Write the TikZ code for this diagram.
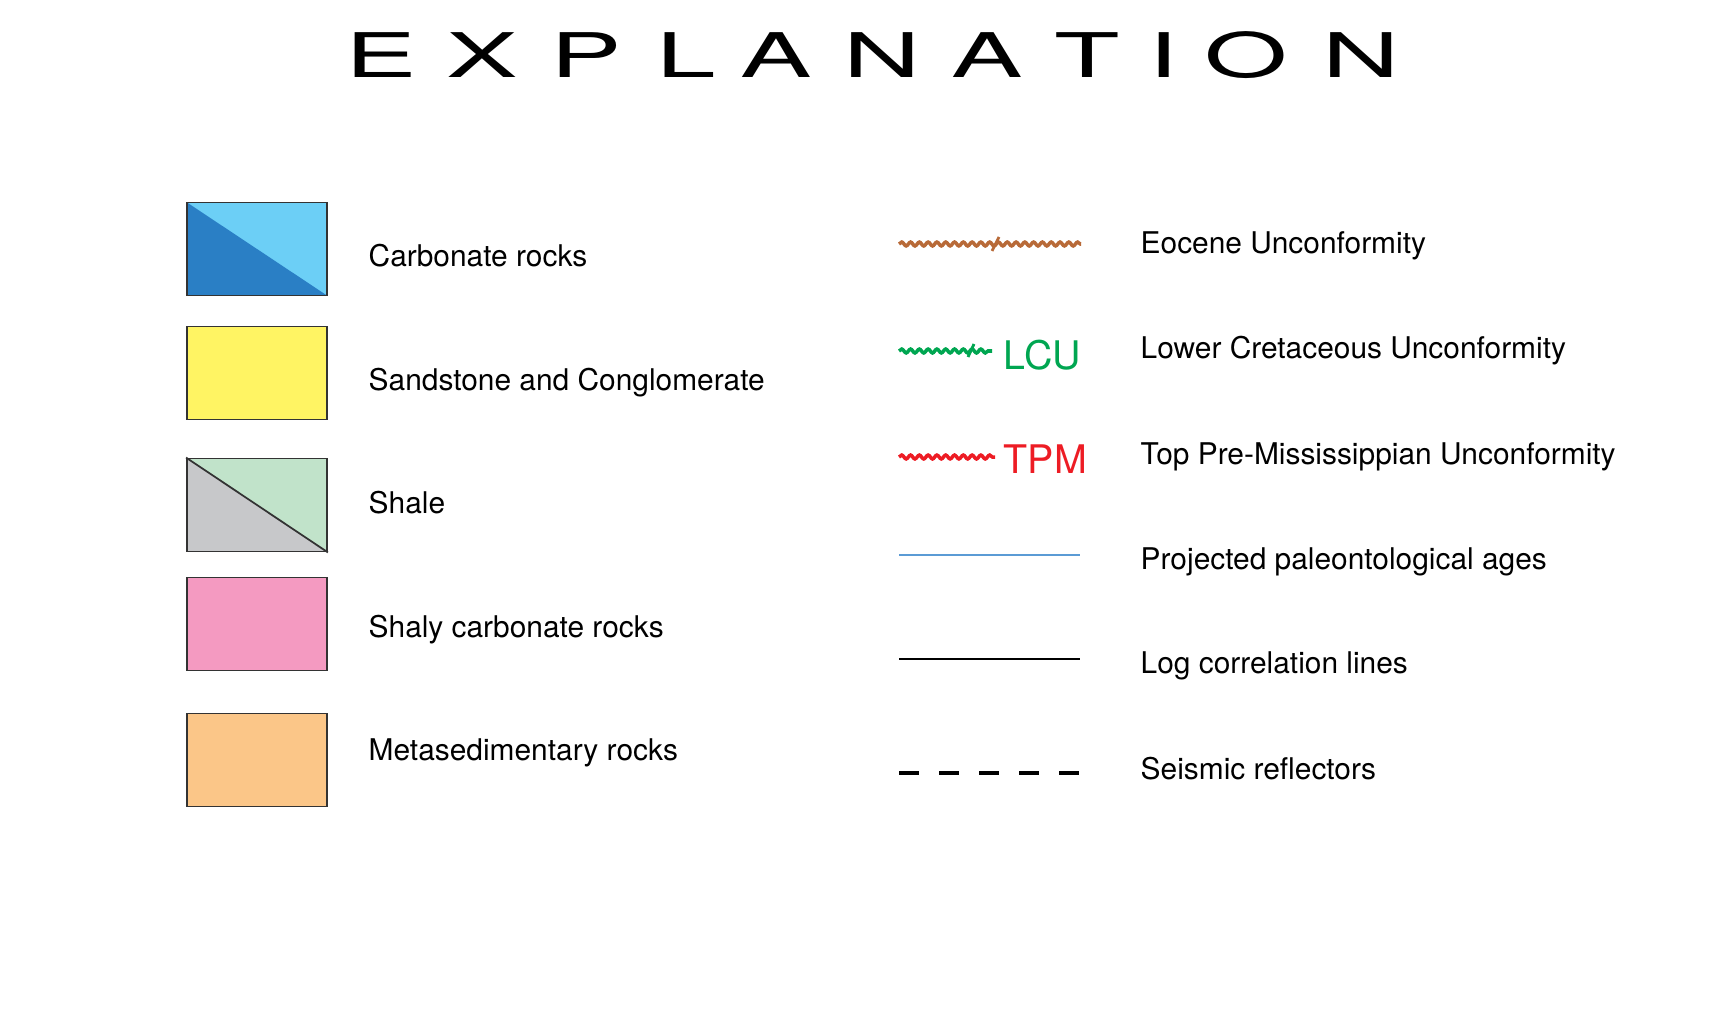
\documentclass[tikz,border=0pt]{standalone}
\usepackage{fontspec}
\setmainfont{TeX Gyre Heros}
\usetikzlibrary{positioning,decorations.pathmorphing}

\definecolor{CarbDark}{HTML}{2A7FC5}
\definecolor{CarbLight}{HTML}{6CCFF6}
\definecolor{SandYellow}{HTML}{FFF463}
\definecolor{ShaleGrey}{HTML}{C7C8CA}
\definecolor{ShaleGreen}{HTML}{C1E3CA}
\definecolor{ShalyPink}{HTML}{F49AC1}
\definecolor{MetaOrange}{HTML}{FBC688}
\definecolor{EoceneBrown}{HTML}{B86A38}
\definecolor{LCUGreen}{HTML}{00A651}
\definecolor{TPMRed}{HTML}{ED1C24}
\definecolor{PaleoBlue}{HTML}{5B9BD5}

\tikzset{
  rockbox/.style={draw=black!80, line width=0.5pt, minimum width=1.4cm, minimum height=0.93cm, inner sep=0pt},
  halfbox/.style 2 args={rockbox, fill=#2,
    path picture={\fill[#1] (path picture bounding box.north west) -- (path picture bounding box.south east)
      -- (path picture bounding box.south west) -- cycle;}},
  legtext/.style={anchor=base west, inner sep=0pt, font=\fontsize{8.5}{10}\selectfont},
  tag/.style={anchor=base west, inner sep=0pt, font=\fontsize{11.2}{13}\selectfont},
  titlechar/.style={anchor=base, inner sep=0pt, font=\fontsize{17.5}{20}\selectfont},
  wavy/.style={line width=1pt, decorate, decoration={snake, amplitude=0.55pt, segment length=2.5pt}},
}

\begin{document}
\begin{tikzpicture}[x=0.01cm, y=-0.01cm]
  \useasboundingbox (0,0) rectangle (1722,1024);

  % title
  \foreach \ch/\cx [count=\i] in {E/381,X/482,P/586,L/686,A/776,N/882,A/987,T/1087,I/1163,O/1246,N/1361}
    \node[titlechar] (title\i) at (\cx,77) {\scalebox{1.74}[1]{\ch}};

  % rock units
  \node[halfbox={CarbDark}{CarbLight}] (carb) at (257,249) {};
  \node[rockbox, fill=SandYellow] (sand) at (257,373) {};
  \node[halfbox={ShaleGrey}{ShaleGreen}] (shale) at (257,505) {};
  \draw[black!80, line width=0.5pt] (shale.north west) -- (shale.south east);
  \node[rockbox, fill=ShalyPink] (shaly) at (257,624) {};
  \node[rockbox, fill=MetaOrange] (meta) at (257,760) {};

  \node[legtext] (carbtext) at (368,266) {Carbonate rocks};
  \node[legtext] (sandtext) at (368,390) {Sandstone and Conglomerate};
  \node[legtext] (shaletext) at (368,513) {Shale};
  \node[legtext] (shalytext) at (368,637) {Shaly carbonate rocks};
  \node[legtext] (metatext) at (368,760) {Metasedimentary rocks};

  % line symbols
  \coordinate (eoA) at (899,244);  \coordinate (eoB) at (1081,244);
  \coordinate (lcuA) at (899,351); \coordinate (lcuB) at (992,351);
  \coordinate (tpmA) at (899,457); \coordinate (tpmB) at (995,457);
  \coordinate (paA) at (899,555);  \coordinate (paB) at (1080,555);
  \coordinate (logA) at (899,659); \coordinate (logB) at (1080,659);
  \coordinate (seisA) at (899,773); \coordinate (seisB) at (1080,773);

  \draw[wavy, EoceneBrown] (eoA) -- (eoB);
  \draw[EoceneBrown, line width=0.8pt] (992,251) -- (999,237);
  \draw[wavy, LCUGreen] (lcuA) -- (lcuB);
  \draw[LCUGreen, line width=0.8pt] (968,357) -- (974,344);
  \draw[wavy, TPMRed] (tpmA) -- (tpmB);
  \draw[PaleoBlue, line width=0.4pt] (paA) -- (paB);
  \draw[black, line width=0.4pt] (logA) -- (logB);
  \draw[black, line width=1.2pt, dash pattern=on 0.2cm off 0.2cm] (seisA) -- (seisB);

  \node[tag, text=LCUGreen] (lcutag) at (1003,369) {LCU};
  \node[tag, text=TPMRed] (tpmtag) at (1003,473) {TPM};

  \node[legtext] (eotext) at (1140,253) {Eocene Unconformity};
  \node[legtext] (lcutext) at (1140,358) {Lower Cretaceous Unconformity};
  \node[legtext] (tpmtext) at (1140,464) {Top Pre-Mississippian Unconformity};
  \node[legtext] (patext) at (1140,569) {Projected paleontological ages};
  \node[legtext] (logtext) at (1140,673) {Log correlation lines};
  \node[legtext] (seistext) at (1140,779) {Seismic reflectors};
\end{tikzpicture}
\end{document}
